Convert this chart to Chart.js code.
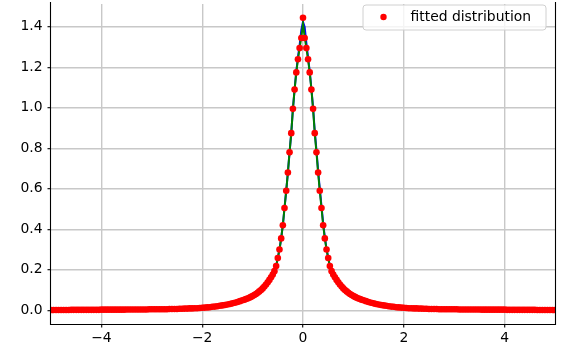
<!DOCTYPE html>
<html><head><meta charset="utf-8">
<script src="https://cdn.jsdelivr.net/npm/chart.js@4/dist/chart.umd.min.js"></script>
<style>html,body{margin:0;padding:0;background:#fff}#c{display:block}</style>
</head><body>
<canvas id="c" width="563" height="353"></canvas>
<script>
const xTicks = [-4, -2, 0, 2, 4];
const yTicks = [0, 0.2, 0.4, 0.6, 0.8, 1.0, 1.2, 1.4];
const legendLabel = 'fitted distribution';

// red dots: fitted distribution
const dotX = [
 -5,-4.95,-4.9,-4.85,-4.8,-4.75,-4.7,-4.65,-4.6,-4.55,
 -4.5,-4.45,-4.4,-4.35,-4.3,-4.25,-4.2,-4.15,-4.1,-4.05,
 -4,-3.95,-3.9,-3.85,-3.8,-3.75,-3.7,-3.65,-3.6,-3.55,
 -3.5,-3.45,-3.4,-3.35,-3.3,-3.25,-3.2,-3.15,-3.1,-3.05,
 -3,-2.95,-2.9,-2.85,-2.8,-2.75,-2.7,-2.65,-2.6,-2.55,
 -2.5,-2.45,-2.4,-2.35,-2.3,-2.25,-2.2,-2.15,-2.1,-2.05,
 -2,-1.95,-1.9,-1.85,-1.8,-1.75,-1.7,-1.65,-1.6,-1.55,
 -1.5,-1.45,-1.4,-1.35,-1.3,-1.25,
 -1.2,-1.167,-1.133,-1.1,-1.067,-1.033,-1,-0.967,-0.933,-0.9,
 -0.867,-0.833,-0.8,-0.767,-0.733,-0.7,-0.667,-0.633,-0.6,-0.567,
 -0.533,-0.5,-0.467,-0.433,-0.4,-0.367,-0.333,-0.3,-0.267,-0.233,
 -0.2,-0.167,-0.133,-0.1,-0.067,-0.033,0,
 0.033,0.067,0.1,0.133,0.167,0.2,0.233,0.267,0.3,0.333,
 0.367,0.4,0.433,0.467,0.5,0.533,0.567,0.6,0.633,0.667,
 0.7,0.733,0.767,0.8,0.833,0.867,0.9,0.933,0.967,1,
 1.033,1.067,1.1,1.133,1.167,1.2,
 1.25,1.3,1.35,1.4,1.45,1.5,
 1.55,1.6,1.65,1.7,1.75,1.8,1.85,1.9,1.95,2,
 2.05,2.1,2.15,2.2,2.25,2.3,2.35,2.4,2.45,2.5,
 2.55,2.6,2.65,2.7,2.75,2.8,2.85,2.9,2.95,3,
 3.05,3.1,3.15,3.2,3.25,3.3,3.35,3.4,3.45,3.5,
 3.55,3.6,3.65,3.7,3.75,3.8,3.85,3.9,3.95,4,
 4.05,4.1,4.15,4.2,4.25,4.3,4.35,4.4,4.45,4.5,
 4.55,4.6,4.65,4.7,4.75,4.8,4.85,4.9,4.95,5
];
const dotY = [
 0.001,0.001,0.001,0.001,0.001,0.001,0.001,0.001,0.002,0.002,
 0.002,0.002,0.002,0.002,0.002,0.002,0.002,0.002,0.002,0.002,
 0.003,0.003,0.003,0.003,0.003,0.003,0.003,0.003,0.003,0.003,
 0.004,0.004,0.004,0.004,0.004,0.004,0.004,0.004,0.004,0.005,
 0.005,0.005,0.005,0.005,0.005,0.005,0.005,0.006,0.006,0.006,
 0.006,0.007,0.007,0.008,0.008,0.009,0.009,0.010,0.010,0.011,
 0.012,0.013,0.014,0.015,0.017,0.018,0.020,0.022,0.024,0.026,
 0.028,0.031,0.034,0.037,0.041,0.045,
 0.049,0.052,0.055,0.058,0.062,0.066,0.070,0.075,0.080,0.086,
 0.093,0.100,0.108,0.117,0.127,0.138,0.150,0.163,0.176,0.193,
 0.218,0.258,0.300,0.355,0.420,0.505,0.590,0.680,0.780,0.875,
 0.995,1.090,1.175,1.240,1.295,1.345,1.445,
 1.345,1.295,1.240,1.175,1.090,0.995,0.875,0.780,0.680,0.590,
 0.505,0.420,0.355,0.300,0.258,0.218,0.193,0.176,0.163,0.150,
 0.138,0.127,0.117,0.108,0.100,0.093,0.086,0.080,0.075,0.070,
 0.066,0.062,0.058,0.055,0.052,0.049,
 0.045,0.041,0.037,0.034,0.031,0.028,
 0.026,0.024,0.022,0.020,0.018,0.017,0.015,0.014,0.013,0.012,
 0.011,0.010,0.010,0.009,0.009,0.008,0.008,0.007,0.007,0.006,
 0.006,0.006,0.006,0.005,0.005,0.005,0.005,0.005,0.005,0.005,
 0.005,0.004,0.004,0.004,0.004,0.004,0.004,0.004,0.004,0.004,
 0.003,0.003,0.003,0.003,0.003,0.003,0.003,0.003,0.003,0.003,
 0.002,0.002,0.002,0.002,0.002,0.002,0.002,0.002,0.002,0.002,
 0.002,0.002,0.001,0.001,0.001,0.001,0.001,0.001,0.001,0.001
];

// line samples for the data (blue) and fitted curve (green)
const lineX = [
 -5,-4,-3,-2.5,-2,-1.6,-1.3,-1.1,-0.95,-0.8,-0.7,
 -0.6,-0.567,-0.533,-0.5,-0.467,-0.433,-0.4,-0.367,-0.333,-0.3,
 -0.267,-0.233,-0.2,-0.167,-0.133,-0.1,-0.067,-0.033,0,
 0.033,0.067,0.1,0.133,0.167,0.2,0.233,0.267,0.3,0.333,
 0.367,0.4,0.433,0.467,0.5,0.533,0.567,0.6,
 0.7,0.8,0.95,1.1,1.3,1.6,2,2.5,3,4,5
];
const dataY = [
 0.001,0.003,0.005,0.006,0.012,0.024,0.041,0.058,0.078,0.108,0.138,
 0.176,0.193,0.218,0.258,0.300,0.355,0.420,0.505,0.590,0.680,
 0.780,0.875,0.995,1.090,1.180,1.250,1.310,1.385,1.425,
 1.400,1.320,1.250,1.180,1.095,1.000,0.885,0.790,0.690,0.600,
 0.515,0.430,0.360,0.303,0.260,0.219,0.193,0.176,
 0.138,0.108,0.078,0.058,0.041,0.024,0.012,0.006,0.005,0.003,0.001
];
const fitY = [
 0.001,0.003,0.005,0.006,0.012,0.024,0.041,0.058,0.078,0.108,0.138,
 0.176,0.193,0.218,0.258,0.300,0.355,0.420,0.505,0.590,0.680,
 0.780,0.875,0.995,1.090,1.175,1.240,1.295,1.350,1.415,
 1.350,1.295,1.240,1.175,1.090,0.995,0.875,0.780,0.680,0.590,
 0.505,0.420,0.355,0.300,0.258,0.218,0.193,0.176,
 0.138,0.108,0.078,0.058,0.041,0.024,0.012,0.006,0.005,0.003,0.001
];

const pts = (xs, ys) => xs.map((x, i) => ({x: x, y: ys[i]}));
const FONT = {family: '"DejaVu Sans", sans-serif', size: 13.9};

const framePlugin = {
  id: 'frame',
  afterDatasetsDraw(chart) {
    const {ctx, chartArea: a} = chart;
    ctx.save();
    ctx.strokeStyle = '#000';
    ctx.lineWidth = 1.1;
    ctx.beginPath();
    ctx.moveTo(a.left - 0.5, a.top - 2);
    ctx.lineTo(a.left - 0.5, a.bottom + 0.5);
    ctx.lineTo(a.right + 0.5, a.bottom + 0.5);
    ctx.lineTo(a.right + 0.5, a.top - 2);
    ctx.stroke();
    ctx.restore();
  },
  afterDraw(chart) {
    const ctx = chart.ctx;
    ctx.save();
    const bx = 363, by = 5, bw = 183, bh = 25, r = 3;
    ctx.beginPath();
    ctx.moveTo(bx + r, by);
    ctx.arcTo(bx + bw, by, bx + bw, by + bh, r);
    ctx.arcTo(bx + bw, by + bh, bx, by + bh, r);
    ctx.arcTo(bx, by + bh, bx, by, r);
    ctx.arcTo(bx, by, bx + bw, by, r);
    ctx.closePath();
    ctx.fillStyle = 'rgba(255,255,255,0.8)';
    ctx.fill();
    ctx.strokeStyle = '#d0d0d0';
    ctx.lineWidth = 1;
    ctx.stroke();
    ctx.beginPath();
    ctx.arc(383.5, 17, 3.2, 0, Math.PI * 2);
    ctx.fillStyle = '#ff0000';
    ctx.fill();
    ctx.fillStyle = '#000';
    ctx.font = '13.9px "DejaVu Sans", sans-serif';
    ctx.textBaseline = 'alphabetic';
    ctx.textAlign = 'left';
    ctx.fillText(legendLabel, 410.5, 21);
    ctx.restore();
  }
};

new Chart(document.getElementById('c'), {
  type: 'line',
  data: {
    datasets: [
      {label: legendLabel, data: pts(dotX, dotY), showLine: false, pointRadius: 3.3,
       pointBackgroundColor: '#ff0000', pointBorderWidth: 0, borderColor: '#ff0000',
       backgroundColor: '#ff0000', order: 0, clip: 0},
      {label: 'fit', data: pts(lineX, fitY), borderColor: '#008000', borderWidth: 2,
       pointRadius: 0, tension: 0, fill: false, order: 1, clip: 0},
      {label: 'data', data: pts(lineX, dataY), borderColor: '#0000ff', borderWidth: 2,
       pointRadius: 0, tension: 0, fill: false, order: 2, clip: 0}
    ]
  },
  options: {
    responsive: false,
    animation: false,
    devicePixelRatio: 1,
    events: [],
    layout: {padding: {left: 0, right: 8, top: 0, bottom: 0}},
    plugins: {legend: {display: false}, tooltip: {enabled: false}},
    scales: {
      x: {
        type: 'linear', min: -5, max: 5,
        afterBuildTicks: s => { s.ticks = xTicks.map(v => ({value: v})); },
        afterFit: s => { s.height = 29; s.paddingLeft = 0; s.paddingRight = 0; },
        grid: {color: '#c8c8c8', lineWidth: 1.4, tickLength: 3.5, tickColor: '#000', tickWidth: 1.1, drawTicks: true},
        border: {display: false},
        ticks: {color: '#000', font: FONT, padding: 3, maxRotation: 0,
          callback: v => (v < 0 ? '\u2212' + Math.abs(v) : String(v))}
      },
      y: {
        type: 'linear', min: -0.068, max: 1.513,
        afterBuildTicks: s => { s.ticks = yTicks.map(v => ({value: v})); },
        afterFit: s => { s.width = 51; s.paddingTop = 0; s.paddingBottom = 0; },
        grid: {color: '#c8c8c8', lineWidth: 1.4, tickLength: 3.5, tickColor: '#000', tickWidth: 1.1, drawTicks: true},
        border: {display: false},
        ticks: {color: '#000', font: FONT, padding: 4.9,
          callback: v => Number(v).toFixed(1)}
      }
    }
  },
  plugins: [framePlugin]
});
</script>
</body></html>
